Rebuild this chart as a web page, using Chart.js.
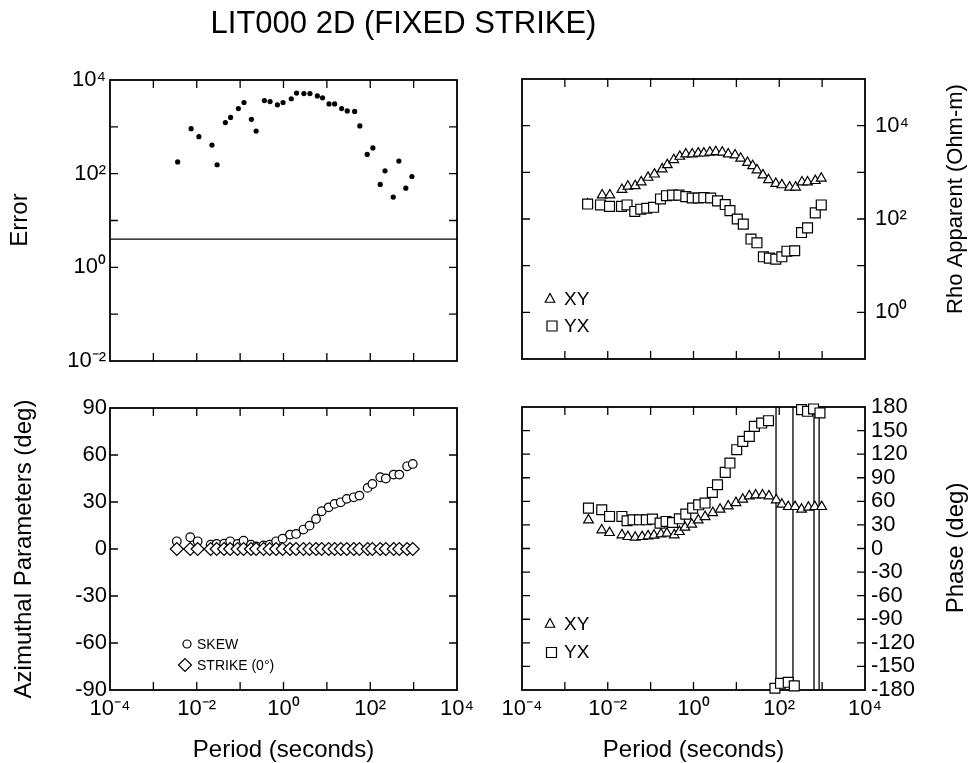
<!DOCTYPE html>
<html>
<head>
<meta charset="utf-8">
<script src="https://cdn.jsdelivr.net/npm/chart.js@4/dist/chart.umd.min.js"></script>
<style>
html,body{margin:0;padding:0;background:#fff;}
#wrap{position:relative;width:973px;height:763px;overflow:hidden;background:#fff;}
#wrap canvas{position:absolute;left:0;top:0;}
</style>
</head>
<body>
<div id="wrap">
<canvas id="cErr" width="973" height="763"></canvas>
<canvas id="cRho" width="973" height="763"></canvas>
<canvas id="cAz" width="973" height="763"></canvas>
<canvas id="cPha" width="973" height="763"></canvas>
</div>
<script>
// ---------------- DATA ----------------
// Error panel (top left)
const errPeriod = [0.00363, 0.00741, 0.0112, 0.0224, 0.0295, 0.0457, 0.0603, 0.0912, 0.123, 0.182, 0.234, 0.363, 0.490, 0.724, 0.977, 1.51, 2.00, 2.95, 4.07, 6.03, 7.94, 11.2, 15.1, 21.9, 29.5, 43.7, 57.5, 85.1, 115, 170, 219, 339, 457, 661, 912];
const errValue = [178, 912, 617, 407, 155, 1230, 1585, 2455, 3311, 1445, 813, 3631, 3467, 2951, 3311, 3981, 5248, 5129, 5129, 4571, 4169, 3090, 3090, 2455, 2188, 2138, 1047, 257, 355, 58.9, 115, 31.6, 186, 49.0, 87.1];
const errThreshold = 4.0;

// Apparent resistivity (top right)
const rhoXYPeriod = [0.00339, 0.00741, 0.0112, 0.0214, 0.0295, 0.0437, 0.0603, 0.0871, 0.123, 0.186, 0.245, 0.347, 0.479, 0.661, 0.933, 1.29, 1.74, 2.40, 3.31, 4.68, 6.46, 9.33, 12.6, 18.2, 24.0, 30.2, 41.7, 56.2, 83.2, 115, 174, 240, 339, 457, 692, 955];
const rhoXY = [209, 324, 324, 427, 501, 513, 617, 776, 912, 1175, 1445, 1862, 2188, 2455, 2455, 2570, 2570, 2692, 2754, 2692, 2455, 2344, 1995, 1622, 1380, 1122, 871, 692, 575, 537, 479, 479, 617, 617, 661, 741];
const rhoYXPeriod = [0.00339, 0.00676, 0.0110, 0.0209, 0.0282, 0.0427, 0.0589, 0.0813, 0.117, 0.170, 0.234, 0.324, 0.457, 0.661, 0.933, 1.29, 1.74, 2.51, 3.63, 5.50, 7.08, 10.5, 14.5, 21.9, 30.2, 42.7, 58.9, 83.2, 115, 151, 229, 331, 457, 692, 955];
const rhoYX = [209, 200, 186, 186, 200, 145, 162, 170, 178, 269, 316, 324, 324, 302, 282, 282, 288, 282, 245, 204, 151, 100, 77.6, 37.2, 30.9, 15.5, 14.5, 13.8, 15.5, 20.4, 20.9, 51.3, 64.6, 135, 200];

// Azimuthal parameters (bottom left)
const azPeriod = [0.00347, 0.00708, 0.0105, 0.0209, 0.0288, 0.0427, 0.0589, 0.0871, 0.120, 0.178, 0.234, 0.347, 0.479, 0.676, 0.955, 1.41, 1.95, 2.88, 3.98, 5.62, 7.59, 11.0, 15.1, 20.9, 28.8, 41.7, 56.2, 87.1, 112, 170, 229, 347, 468, 708, 955];
const skew = [4.9, 7.5, 4.9, 2.8, 3.2, 3.4, 4.9, 3.2, 5.3, 2.8, 1.7, 2.3, 2.8, 4.9, 6.6, 9.2, 9.6, 12.4, 14.9, 19.2, 24.1, 26.6, 28.8, 29.8, 32.0, 33.0, 34.1, 39.0, 41.5, 45.8, 45.0, 47.5, 47.5, 52.8, 54.3];
const strike = [0, 0, 0, 0, 0, 0, 0, 0, 0, 0, 0, 0, 0, 0, 0, 0, 0, 0, 0, 0, 0, 0, 0, 0, 0, 0, 0, 0, 0, 0, 0, 0, 0, 0, 0];

// Phase (bottom right)
const phaXYPeriod = [0.00355, 0.00724, 0.0110, 0.0214, 0.0295, 0.0437, 0.0631, 0.0871, 0.120, 0.174, 0.240, 0.355, 0.468, 0.631, 0.912, 1.29, 1.86, 2.82, 4.17, 6.46, 9.77, 14.1, 20.0, 28.2, 40.7, 57.5, 85.1, 115, 162, 234, 331, 479, 676, 977];
const phaXY = [36.2, 23.5, 20.1, 17.2, 15.0, 14.2, 15.0, 15.9, 16.8, 18.4, 19.3, 17.2, 21.4, 26.9, 30.7, 36.2, 40.4, 45.5, 49.8, 54.0, 58.2, 62.5, 66.8, 68.0, 68.0, 66.8, 61.7, 56.2, 53.2, 53.2, 49.8, 52.4, 53.2, 53.2];
const phaYXPeriod = [0.00355, 0.00724, 0.0110, 0.0214, 0.0282, 0.0389, 0.0550, 0.0794, 0.110, 0.166, 0.229, 0.324, 0.468, 0.661, 0.955, 1.32, 1.86, 2.75, 3.63, 5.50, 7.08, 10.2, 14.1, 20.0, 26.3, 38.9, 56.2, 79.4, 107, 162, 224, 331, 457, 631, 891];
const phaYX = [51.4, 49.3, 40.8, 40.8, 35.3, 36.5, 36.5, 36.5, 37.4, 32.3, 34.4, 33.1, 37.8, 43.7, 51.4, 55.6, 57.8, 71.3, 81.1, 96.8, 108.7, 125.7, 136.3, 142.6, 155.4, 159.6, 162.6, -177.8, -171.5, -170.2, -174.8, 176.6, 174.5, 177.5, 172.4];
// periods where the YX phase wraps (vertical connecting lines)
const wrapPeriod = [84.1, 209, 646, 851];

// Ticks
const periodTickValues = [1e-4, 1e-2, 1, 1e2, 1e4];
const periodTickLabels = ['10⁻⁴', '10⁻²', '10⁰', '10²', '10⁴'];
const periodMarks = [1e-3, 1e-2, 1e-1, 1, 10, 100, 1000];
const errTickValues = [1e-2, 1, 1e2, 1e4];
const errTickLabels = ['10⁻²', '10⁰', '10²', '10⁴'];
const errMarks = [1e-1, 1, 10, 100, 1000];
const rhoTickValues = [1, 1e2, 1e4];
const rhoTickLabels = ['10⁰', '10²', '10⁴'];
const rhoMarks = [1, 10, 100, 1000, 1e4];
const azTickValues = [-90, -60, -30, 0, 30, 60, 90];
const azTickLabels = ['-90', '-60', '-30', '0', '30', '60', '90'];
const azMarks = [-60, -30, 0, 30, 60];
const phaTickValues = [-180, -150, -120, -90, -60, -30, 0, 30, 60, 90, 120, 150, 180];
const phaTickLabels = ['-180', '-150', '-120', '-90', '-60', '-30', '0', '30', '60', '90', '120', '150', '180'];
const phaMarks = [-150, -120, -90, -60, -30, 0, 30, 60, 90, 120, 150];

// ---------------- HELPERS ----------------
const FONT = '"Liberation Sans", Arial, Helvetica, sans-serif';
Chart.defaults.font.family = FONT;
Chart.defaults.color = '#000';

const pts = (xs, ys) => xs.map((x, i) => ({x: x, y: ys[i]}));

const framePlugin = {
  id: 'frame',
  beforeDatasetsDraw(chart, args, o) {
    const {ctx, chartArea: a, scales} = chart;
    const L = 8;
    ctx.save();
    ctx.strokeStyle = '#000';
    ctx.lineWidth = 1.3;
    ctx.beginPath();
    (o.xMarks || []).forEach(v => {
      const px = scales.x.getPixelForValue(v);
      ctx.moveTo(px, a.top); ctx.lineTo(px, a.top + L);
      ctx.moveTo(px, a.bottom); ctx.lineTo(px, a.bottom - L);
    });
    (o.yMarks || []).forEach(v => {
      const py = scales.y.getPixelForValue(v);
      ctx.moveTo(a.left, py); ctx.lineTo(a.left + L, py);
      ctx.moveTo(a.right, py); ctx.lineTo(a.right - L, py);
    });
    ctx.stroke();
    ctx.lineWidth = 1.8;
    ctx.strokeRect(a.left, a.top, a.right - a.left, a.bottom - a.top);
    ctx.restore();
  }
};

function drawSymbol(ctx, k) {
  ctx.save();
  ctx.strokeStyle = '#000';
  ctx.fillStyle = '#fff';
  ctx.lineWidth = 1.2;
  ctx.beginPath();
  const {x, y, r} = k;
  if (k.kind === 'triangle') {
    ctx.moveTo(x, y - r); ctx.lineTo(x + r * 0.95, y + r * 0.75); ctx.lineTo(x - r * 0.95, y + r * 0.75); ctx.closePath();
  } else if (k.kind === 'rect') {
    ctx.rect(x - r, y - r, 2 * r, 2 * r);
  } else if (k.kind === 'circle') {
    ctx.arc(x, y, r, 0, Math.PI * 2);
  } else if (k.kind === 'diamond') {
    ctx.moveTo(x - r, y); ctx.lineTo(x, y - r); ctx.lineTo(x + r, y); ctx.lineTo(x, y + r); ctx.closePath();
  }
  ctx.fill(); ctx.stroke();
  ctx.restore();
}

const annotPlugin = {
  id: 'annot',
  afterDraw(chart, args, o) {
    const ctx = chart.ctx;
    (o.texts || []).forEach(t => {
      ctx.save();
      ctx.fillStyle = '#000';
      ctx.font = (t.weight || '') + ' ' + t.size + 'px ' + FONT;
      ctx.textAlign = t.align || 'left';
      ctx.textBaseline = 'alphabetic';
      ctx.translate(t.x, t.y);
      if (t.rot) ctx.rotate(-Math.PI / 2);
      ctx.fillText(t.text, 0, 0);
      ctx.restore();
    });
    (o.keys || []).forEach(k => drawSymbol(ctx, k));
  }
};

function xScale(showLabels) {
  return {
    type: 'logarithmic', position: 'bottom', min: 1e-4, max: 1e4,
    grid: {display: false, drawTicks: false}, border: {display: false},
    afterBuildTicks: s => { s.ticks = periodTickValues.map(v => ({value: v})); },
    afterFit: s => { s.height = showLabels ? 40 : 0; },
    ticks: {
      display: showLabels, autoSkip: false, maxRotation: 0, minRotation: 0, padding: 6,
      font: {size: 22, family: FONT}, color: '#000',
      callback: (v, i) => periodTickLabels[i]
    }
  };
}

function yScale(type, pos, min, max, vals, labels, pad) {
  return {
    type: type, position: pos, min: min, max: max,
    grid: {display: false, drawTicks: false}, border: {display: false},
    afterBuildTicks: s => { s.ticks = vals.map(v => ({value: v})); },
    afterFit: s => { s.width = 60; },
    ticks: {
      autoSkip: false, padding: pad,
      font: {size: 22, family: FONT}, color: '#000',
      callback: (v, i) => labels[i]
    }
  };
}

const common = {
  responsive: false, animation: false, devicePixelRatio: 1, events: [],
};
const noPlug = {legend: {display: false}, tooltip: {enabled: false}, title: {display: false}};

// ---------------- ERROR (top left) ----------------
new Chart(document.getElementById('cErr'), {
  type: 'scatter',
  data: {datasets: [
    {data: pts(errPeriod, errValue), pointStyle: 'circle', pointRadius: 2.6, backgroundColor: '#000', borderColor: '#000', borderWidth: 0, clip: false},
    {data: [{x: 1e-4, y: errThreshold}, {x: 1e4, y: errThreshold}], showLine: true, borderColor: '#000', borderWidth: 1.2, pointRadius: 0}
  ]},
  options: Object.assign({}, common, {
    layout: {padding: {left: 50, top: 80, right: 516, bottom: 402}},
    scales: {x: xScale(false), y: yScale('logarithmic', 'left', 1e-2, 1e4, errTickValues, errTickLabels, 4)},
    plugins: Object.assign({}, noPlug, {
      frame: {xMarks: periodMarks, yMarks: errMarks},
      annot: {texts: [
        {text: 'LIT000 2D (FIXED STRIKE)', x: 403.5, y: 33, size: 31, align: 'center'},
        {text: 'Error', x: 27, y: 220, size: 24, align: 'center', rot: true}
      ]}
    })
  }),
  plugins: [framePlugin, annotPlugin]
});

// ---------------- RHO (top right) ----------------
new Chart(document.getElementById('cRho'), {
  type: 'scatter',
  data: {datasets: [
    {data: pts(rhoYXPeriod, rhoYX), pointStyle: 'rect', pointRadius: 7, backgroundColor: '#fff', borderColor: '#000', borderWidth: 1.2, clip: false},
    {data: pts(rhoXYPeriod, rhoXY), pointStyle: 'triangle', pointRadius: 5.6, backgroundColor: '#fff', borderColor: '#000', borderWidth: 1.2, clip: false}
  ]},
  options: Object.assign({}, common, {
    layout: {padding: {left: 522, top: 79, right: 48, bottom: 404}},
    scales: {x: xScale(false), y: yScale('logarithmic', 'right', 1e-1, 1e5, rhoTickValues, rhoTickLabels, 10)},
    plugins: Object.assign({}, noPlug, {
      frame: {xMarks: periodMarks, yMarks: rhoMarks},
      annot: {
        texts: [
          {text: 'Rho Apparent (Ohm-m)', x: 962, y: 199, size: 22, align: 'center', rot: true},
          {text: 'XY', x: 564, y: 305, size: 19},
          {text: 'YX', x: 564, y: 332, size: 19}
        ],
        keys: [{kind: 'triangle', x: 550, y: 298.5, r: 5}, {kind: 'rect', x: 552, y: 326, r: 5}]
      }
    })
  }),
  plugins: [framePlugin, annotPlugin]
});

// ---------------- AZIMUTHAL (bottom left) ----------------
new Chart(document.getElementById('cAz'), {
  type: 'scatter',
  data: {datasets: [
    {data: pts(azPeriod, strike), pointStyle: 'rectRot', pointRadius: 6.5, backgroundColor: '#fff', borderColor: '#000', borderWidth: 1.2, clip: false},
    {data: pts(azPeriod, skew), pointStyle: 'circle', pointRadius: 4.3, backgroundColor: '#fff', borderColor: '#000', borderWidth: 1.2, clip: false}
  ]},
  options: Object.assign({}, common, {
    layout: {padding: {left: 50, top: 408, right: 516, bottom: 33}},
    scales: {x: xScale(true), y: yScale('linear', 'left', -90, 90, azTickValues, azTickLabels, 3)},
    plugins: Object.assign({}, noPlug, {
      frame: {xMarks: periodMarks, yMarks: azMarks},
      annot: {
        texts: [
          {text: 'Azimuthal Parameters (deg)', x: 31, y: 549, size: 24, align: 'center', rot: true},
          {text: 'Period (seconds)', x: 283.5, y: 757, size: 24, align: 'center'},
          {text: 'SKEW', x: 197, y: 649, size: 14},
          {text: 'STRIKE (0°)', x: 197, y: 670, size: 14}
        ],
        keys: [{kind: 'circle', x: 187, y: 644, r: 4}, {kind: 'diamond', x: 185, y: 665, r: 6.5}]
      }
    })
  }),
  plugins: [framePlugin, annotPlugin]
});

// ---------------- PHASE (bottom right) ----------------
const wrapLine = [];
wrapPeriod.forEach(p => { wrapLine.push({x: p, y: -180}, {x: p, y: 180}, {x: p, y: null}); });

new Chart(document.getElementById('cPha'), {
  type: 'scatter',
  data: {datasets: [
    {data: pts(phaYXPeriod, phaYX), pointStyle: 'rect', pointRadius: 7, backgroundColor: '#fff', borderColor: '#000', borderWidth: 1.2, clip: false},
    {data: pts(phaXYPeriod, phaXY), pointStyle: 'triangle', pointRadius: 5.6, backgroundColor: '#fff', borderColor: '#000', borderWidth: 1.2, clip: false},
    {data: wrapLine, showLine: true, spanGaps: false, borderColor: '#000', borderWidth: 1.3, pointRadius: 0}
  ]},
  options: Object.assign({}, common, {
    layout: {padding: {left: 522, top: 407, right: 48, bottom: 33}},
    scales: {x: xScale(true), y: yScale('linear', 'right', -180, 180, phaTickValues, phaTickLabels, 6)},
    plugins: Object.assign({}, noPlug, {
      frame: {xMarks: periodMarks, yMarks: phaMarks},
      annot: {
        texts: [
          {text: 'Phase (deg)', x: 963, y: 548, size: 24, align: 'center', rot: true},
          {text: 'Period (seconds)', x: 693.5, y: 757, size: 24, align: 'center'},
          {text: 'XY', x: 564, y: 630, size: 19},
          {text: 'YX', x: 564, y: 658, size: 19}
        ],
        keys: [{kind: 'triangle', x: 550, y: 623.5, r: 5}, {kind: 'rect', x: 551.5, y: 652.5, r: 5}]
      }
    })
  }),
  plugins: [framePlugin, annotPlugin]
});
</script>
</body>
</html>
